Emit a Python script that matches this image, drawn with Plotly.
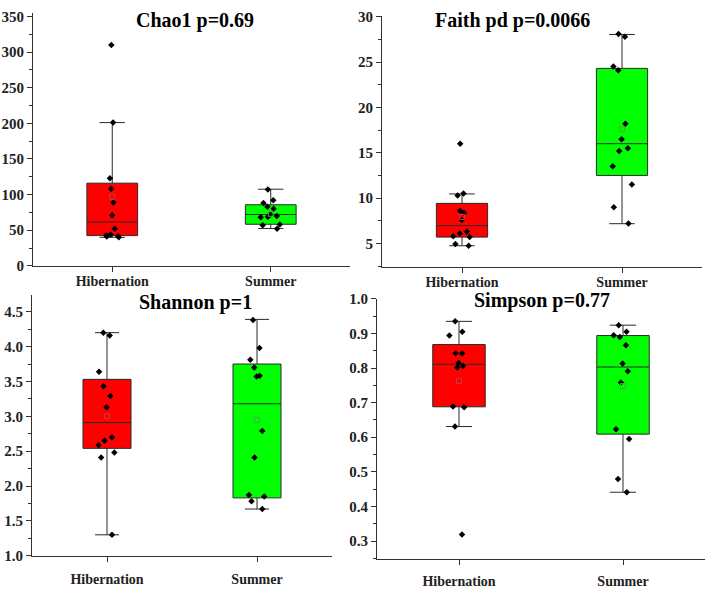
import plotly.graph_objects as go

groups = ["Hibernation", "Summer"]
fills = ["#FF0000", "#00FF00"]
mean_cols = ["#c04040", "#40b040"]

# ---- data ----
chao1_hib = [310, 201, 123, 108, 89, 71, 52, 44, 43, 42, 41, 40]
chao1_sum = [107, 92, 88, 83, 80, 72, 70, 69, 68, 58, 57, 52]
faith_hib = [16.0, 10.5, 10.3, 8.6, 8.4, 7.6, 6.3, 6.1, 5.8, 5.7, 4.95, 4.75]
faith_sum = [28.1, 27.8, 24.5, 24.1, 18.2, 16.5, 15.5, 15.2, 13.5, 11.5, 9.0, 7.2]
shan_hib = [4.20, 4.16, 3.64, 3.43, 3.29, 3.13, 2.70, 2.65, 2.59, 2.48, 2.41, 1.30]
shan_sum = [4.38, 3.98, 3.81, 3.70, 3.58, 3.57, 2.79, 2.41, 1.87, 1.85, 1.78, 1.67]
simp_hib = [0.935, 0.905, 0.894, 0.843, 0.842, 0.815, 0.806, 0.802, 0.689, 0.687, 0.631, 0.319]
simp_sum = [0.924, 0.905, 0.895, 0.890, 0.866, 0.813, 0.791, 0.758, 0.623, 0.595, 0.479, 0.441]

# box statistics (Q1, median, Q3, lower whisker, upper whisker) as drawn
chao1_stats = [(42.4, 61.5, 116, 40, 201), (58.3, 72, 85.7, 52.4, 107.5)]
faith_stats = [(5.7, 6.96, 9.42, 4.75, 10.46), (12.5, 16.0, 24.3, 7.18, 28.04)]
shan_stats = [(2.54, 2.91, 3.53, 1.30, 4.20), (1.83, 3.18, 3.75, 1.67, 4.39)]
simp_stats = [(0.688, 0.811, 0.868, 0.631, 0.935), (0.609, 0.803, 0.894, 0.441, 0.924)]

# means (small hollow squares)
chao1_means = [97, 73]
faith_means = [7.92, 17.6]
shan_means = [3.0, 2.95]
simp_means = [0.763, 0.748]

titles = ["Chao1 p=0.69", "Faith pd p=0.0066", "Shannon p=1", "Simpson p=0.77"]

panels = [
    (chao1_hib, chao1_sum, chao1_stats, chao1_means),
    (faith_hib, faith_sum, faith_stats, faith_means),
    (shan_hib, shan_sum, shan_stats, shan_means),
    (simp_hib, simp_sum, simp_stats, simp_means),
]

yranges = [[0, 355], [2.43, 30.1], [1.0, 4.74], [0.249, 1.0]]
ydticks = [50, 5, 0.5, 0.1]
ytick0 = [0, 5, 1.0, 0.3]
ytickfmt = ["", "", ".1f", ".1f"]

W, H = 709, 590
# pixel boxes: (x0, x1, ytop, ybottom)
px = [(33, 350, 5, 265), (382, 702, 8, 266), (32, 332, 295, 563), (377, 705, 299, 566)]
title_pos = [(195, 13), (512, 13), (195, 303), (542, 301)]
xstandoff = [-3, -3, 5, 5]

FONT = "Liberation Serif"
fig = go.Figure()
layout = dict(width=W, height=H, margin=dict(l=0, r=0, t=0, b=0),
              plot_bgcolor="white", paper_bgcolor="white", showlegend=False,
              boxmode="overlay", annotations=[])

for i, (hib, summ, stats, means) in enumerate(panels):
    n = "" if i == 0 else str(i + 1)
    xa, ya = "x" + n, "y" + n
    for g, (vals, st, mn) in enumerate(zip([hib, summ], stats, means)):
        q1, med, q3, lo, hi = st
        fig.add_trace(go.Box(
            x=[groups[g]], q1=[q1], median=[med], q3=[q3],
            lowerfence=[lo], upperfence=[hi],
            fillcolor=fills[g], line=dict(color="#2a2a2a", width=1),
            width=0.32, whiskerwidth=0.5, boxpoints=False,
            xaxis=xa, yaxis=ya, hoverinfo="skip"))
        fig.add_trace(go.Box(
            x=[groups[g]] * len(vals), y=vals, boxpoints="all", jitter=0.5,
            pointpos=0, width=0.32, whiskerwidth=0,
            fillcolor="rgba(0,0,0,0)", line=dict(color="rgba(0,0,0,0)", width=0),
            marker=dict(color="black", size=5, symbol="diamond"),
            xaxis=xa, yaxis=ya))
        fig.add_trace(go.Scatter(
            x=[groups[g]], y=[mn], mode="markers",
            marker=dict(symbol="square-open", size=5, color=mean_cols[g], line=dict(width=1)),
            xaxis=xa, yaxis=ya))
    x0, x1, yt, yb = px[i]
    layout["xaxis" + n] = dict(
        domain=[x0 / W, x1 / W], anchor=ya, type="category",
        categoryorder="array", categoryarray=groups, range=[-0.5, 1.5],
        showline=True, linecolor="#333", linewidth=1, mirror=False,
        ticks="outside", ticklen=5, tickcolor="#333", showgrid=False, zeroline=False,
        ticklabelstandoff=xstandoff[i],
        tickfont=dict(family=FONT, size=14, color="#222", weight="bold"))
    layout["yaxis" + n] = dict(
        domain=[1 - yb / H, 1 - yt / H], anchor=xa, range=yranges[i],
        tick0=ytick0[i], dtick=ydticks[i], tickformat=ytickfmt[i],
        showline=True, linecolor="#333", linewidth=1,
        ticks="outside", ticklen=5, tickcolor="#333", showgrid=False, zeroline=False,
        minor=dict(ticks="outside", ticklen=3, dtick=ydticks[i] / 2, tickcolor="#333", showgrid=False),
        tickfont=dict(family=FONT, size=15, color="#222", weight="bold"))
    tx, ty = title_pos[i]
    layout["annotations"].append(dict(
        text=titles[i], xref="paper", yref="paper", x=tx / W, y=1 - ty / H,
        xanchor="center", yanchor="middle", showarrow=False,
        font=dict(family=FONT, size=20, color="black", weight="bold")))

fig.update_layout(**layout)
fig.write_html("out.html")
